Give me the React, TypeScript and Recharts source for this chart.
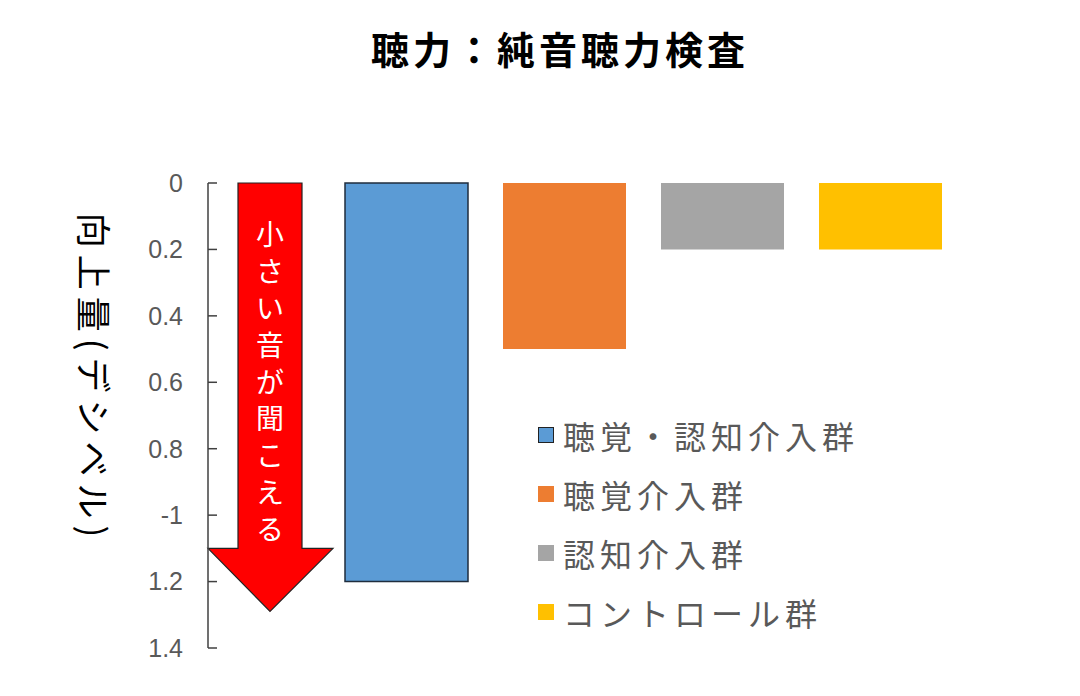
import { Bar, BarChart, Cell, ReferenceArea, XAxis, YAxis } from "recharts";

// hearing: pure-tone audiometry, improvement per group (dB)
const groups = ["聴覚・認知介入群", "聴覚介入群", "認知介入群", "コントロール群"];
const improvement = [1.2, 0.5, 0.2, 0.2];
const colors = ["#5B9BD5", "#ED7D31", "#A5A5A5", "#FFC000"];
const yTicks = [0, 0.2, 0.4, 0.6, 0.8, 1, 1.2, 1.4];
const yTickLabels = ["0", "0.2", "0.4", "0.6", "0.8", "-1", "1.2", "1.4"];
const arrowText = "小さい音が聞こえる";
// arrow annotation: top, end of shaft, tip (axis units)
const arrowStops = [0, 1.1, 1.29];

const data = groups.map((name, i) => ({ name, value: improvement[i] }));

const JP = '"Noto Sans CJK JP", "Noto Sans", sans-serif';
const PAD_LEFT = 119;

function ArrowShape(props: any) {
  const { y, height } = props;
  // reference area starts after the category padding, arrow sits next to the axis
  const x = props.x - PAD_LEFT;
  const span = arrowStops[2] - arrowStops[0];
  const shaftEnd = y + (height * (arrowStops[1] - arrowStops[0])) / span;
  const tip = y + height;
  const bl = x + 30;
  const br = x + 94;
  const hl = x;
  const hr = x + 125;
  const cx = x + 62;
  const pts = `${bl},${y} ${br},${y} ${br},${shaftEnd} ${hr},${shaftEnd} ${cx},${tip} ${hl},${shaftEnd} ${bl},${shaftEnd}`;
  const chars = arrowText.split("");
  const step = (shaftEnd - y - 34) / chars.length;
  return (
    <g>
      <polygon points={pts} fill="#FF0000" stroke="#222" strokeWidth={1.2} />
      {chars.map((c, i) => (
        <text
          key={i}
          x={cx}
          y={y + 32 + step * (i + 0.5)}
          textAnchor="middle"
          dominantBaseline="central"
          fill="#fff"
          fontSize={28}
          fontFamily={JP}
        >
          {c}
        </text>
      ))}
    </g>
  );
}

function LegendBox() {
  return (
    <div style={{ position: "absolute", left: 538, top: 405, fontFamily: JP }}>
      {groups.map((g, i) => (
        <div key={g} style={{ display: "flex", alignItems: "center", height: 59 }}>
          <span
            style={{
              display: "inline-block",
              width: 16,
              height: 16,
              background: colors[i],
              boxSizing: "border-box",
              border: i === 0 ? "1.5px solid #222" : "none",
              marginRight: 9,
            }}
          />
          <span style={{ fontSize: 32, letterSpacing: 5, color: "#595959", lineHeight: 1 }}>{g}</span>
        </div>
      ))}
    </div>
  );
}

function YLabel(props: any) {
  const { viewBox } = props;
  const cx = viewBox.x + 95;
  const cy = viewBox.y + viewBox.height / 2 - 37;
  return (
    <text
      x={cx}
      y={cy}
      transform={`rotate(90, ${cx}, ${cy})`}
      textAnchor="middle"
      dominantBaseline="central"
      fontSize={35}
      letterSpacing={7}
      fill="#000"
      fontFamily={JP}
    >
      向上量(デシベル)
    </text>
  );
}

export default function App() {
  return (
    <div style={{ position: "absolute", left: 0, top: 0, width: 1080, height: 696, background: "#fff" }}>
      <div
        style={{
          position: "absolute",
          left: 560,
          top: 47,
          transform: "translate(-50%, -50%)",
          fontFamily: JP,
          fontWeight: 700,
          fontSize: 38,
          letterSpacing: 4,
          whiteSpace: "nowrap",
          color: "#000",
        }}
      >
        聴力：純音聴力検査
      </div>
      <BarChart
        width={1080}
        height={696}
        data={data}
        margin={{ top: 183, right: 121, bottom: 48, left: 0 }}
      >
        <XAxis dataKey="name" hide padding={{ left: PAD_LEFT, right: 0 }} />
        <YAxis
          domain={[0, 1.4]}
          reversed
          ticks={yTicks}
          interval={0}
          width={208}
          tickFormatter={(v: number) => yTickLabels[yTicks.indexOf(v)] ?? String(v)}
          axisLine={{ stroke: "#404040", strokeWidth: 1.5 }}
          tickLine={{ stroke: "#404040", strokeWidth: 1.5 }}
          tickSize={-9}
          tickMargin={34}
          tick={{ fill: "#595959", fontSize: 25, fontFamily: '"Liberation Sans", Arial, sans-serif' }}
          label={<YLabel />}
        />
        <ReferenceArea y1={arrowStops[0]} y2={arrowStops[2]} shape={<ArrowShape />} />
        <Bar dataKey="value" barSize={123} isAnimationActive={false}>
          {data.map((d, i) => (
            <Cell
              key={d.name}
              fill={colors[i]}
              stroke={i === 0 ? "#1f2d3d" : "none"}
              strokeWidth={i === 0 ? 1.5 : 0}
            />
          ))}
        </Bar>
      </BarChart>
      <LegendBox />
    </div>
  );
}
